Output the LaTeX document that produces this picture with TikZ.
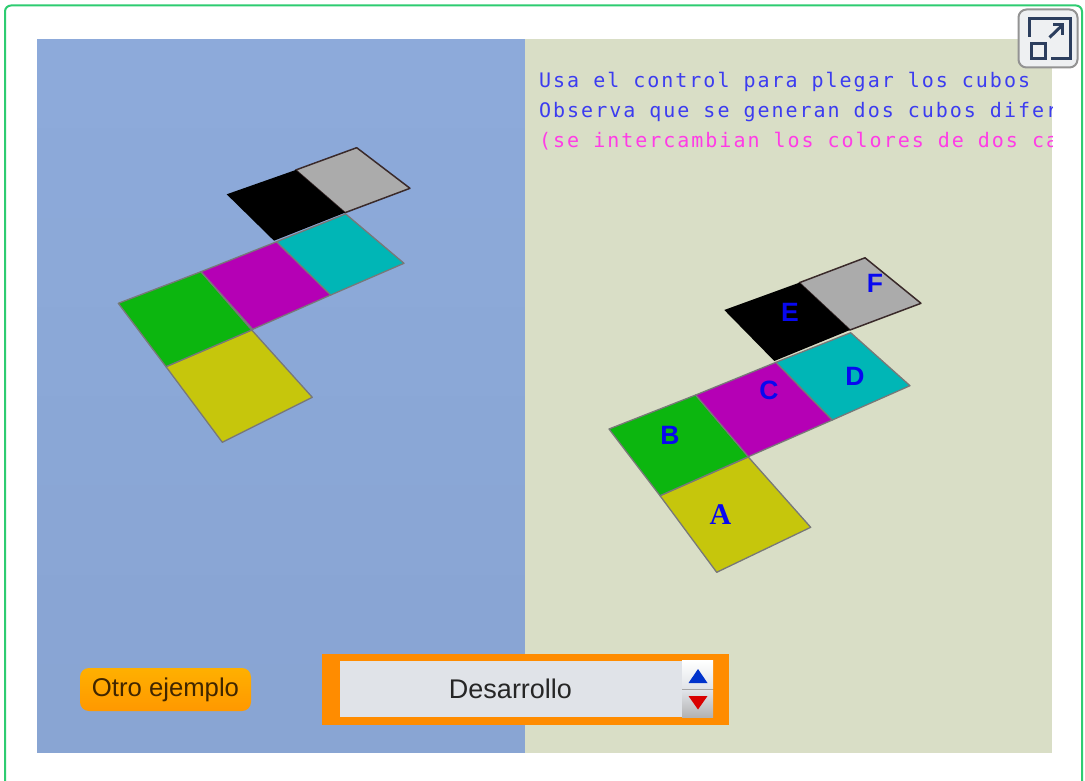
\documentclass[tikz,border=0pt]{standalone}
\usepackage{fontspec}
\setmainfont{Liberation Sans}
\newfontfamily\monotxt[LetterSpace=9.9]{DejaVu Sans Mono}
\newfontfamily\serifb[BoldFont={Liberation Serif Bold}]{Liberation Serif}
\definecolor{frameG}{HTML}{2ECC71}
\definecolor{panelB}{HTML}{8DAADA}
\definecolor{panelY}{HTML}{D9DEC6}
\definecolor{fYel}{HTML}{C6C60C}
\definecolor{fGrn}{HTML}{0CB60F}
\definecolor{fMag}{HTML}{B500B5}
\definecolor{fCya}{HTML}{00B6B6}
\definecolor{fGry}{HTML}{ABABAB}
\definecolor{edgeG}{HTML}{787878}
\definecolor{edgeD}{HTML}{3A2A2A}
\definecolor{txtB}{HTML}{3C3CF0}
\definecolor{txtM}{HTML}{FF3CE6}
\definecolor{lblB}{HTML}{0808F0}
\definecolor{ctlO}{HTML}{FF8C00}
\definecolor{ctlI}{HTML}{E0E3E8}
\definecolor{btnT}{HTML}{FFB000}
\definecolor{btnL}{HTML}{FF9800}
\definecolor{iconD}{HTML}{2C3E5E}
\tikzset{
  face/.style={draw=edgeG,line width=1.3pt,line join=round},
  darkface/.style={draw=edgeD,line width=1.5pt,line join=round},
  monoline/.style={anchor=base west,inner sep=0pt,font=\monotxt\fontsize{20}{20}\selectfont},
  sanslbl/.style={text=lblB,inner sep=0pt,font=\bfseries\fontsize{26.5}{26.5}\selectfont},
  iconline/.style={draw=iconD,line width=3pt},
}
\begin{document}
\begin{tikzpicture}[x=1pt,y=-1pt]
\useasboundingbox (0,0) rectangle (1085,781);
\fill[white] (0,0) rectangle (1085,781);
% frame (runs off the page bottom)
\draw[frameG,line width=2pt,rounded corners=6pt] (5,781) -- (5,5.5) -- (1082,5.5) -- (1082,781);
% panels: left panel darkens very slightly downwards, in bands
\foreach \k in {0,...,7}{
  \pgfmathsetmacro{\ytop}{39+\k*714/8}
  \pgfmathsetmacro{\mixv}{100-\k*0.45}
  \fill[panelB!\mixv!black] (37,\ytop) rectangle (525,753);
}
\fill[panelY] (525,39) rectangle (1052,753);
% left net
\filldraw[face,fill=fYel] (251.7,330) -- (312.3,397.3) -- (222.3,442.3) -- (166,366.7) -- cycle;
\filldraw[face,fill=fGrn] (201,271.7) -- (251.7,330) -- (166,366.7) -- (118.3,303.3) -- cycle;
\filldraw[face,fill=fMag] (276.7,241.7) -- (330.7,295) -- (252.7,329.3) -- (201,271.7) -- cycle;
\filldraw[face,fill=fCya] (345.7,214) -- (404,263.3) -- (330.7,295) -- (276.7,241.7) -- cycle;
\filldraw[darkface,fill=fGry] (356.7,147.7) -- (410,188.3) -- (345,212.7) -- (295.7,170) -- cycle;
\fill[black] (295.7,170) -- (226.7,194.3) -- (274,240.7) -- (345,212.7) -- cycle;
% right net
\filldraw[face,fill=fYel] (748.3,457) -- (810.7,527.3) -- (716.7,572.3) -- (660,495.7) -- cycle;
\filldraw[face,fill=fGrn] (695.7,395) -- (748.3,456.7) -- (660,495.7) -- (609,429) -- cycle;
\filldraw[face,fill=fMag] (776,362.3) -- (832.3,420) -- (748.3,456.7) -- (695.7,395) -- cycle;
\filldraw[face,fill=fCya] (850.7,332.7) -- (910,385.7) -- (832.3,420) -- (776,362.3) -- cycle;
\filldraw[darkface,fill=fGry] (865,257.8) -- (921,303.3) -- (850,330) -- (799.3,282.7) -- cycle;
\fill[black] (799.3,282.7) -- (724.3,310) -- (774.3,361) -- (850,330) -- cycle;
% face labels
\node[text=lblB,inner sep=0pt,font=\serifb\bfseries\fontsize{30}{30}\selectfont] (la) at (720.5,515) {A};
\node[sanslbl] (lb) at (670,435.7) {B};
\node[sanslbl] (lc) at (769,390.5) {C};
\node[sanslbl] (ld) at (855,376) {D};
\node[sanslbl] (le) at (790,312) {E};
\node[sanslbl] (lf) at (875,283) {F};
% instruction text, cut by the panel edge
\begin{scope}
\clip (525,39) rectangle (1052,753);
\node[monoline,text=txtB] (t1) at (539,87.7) {Usa el control para plegar los cubos};
\node[monoline,text=txtB] (t2) at (539,117.7) {Observa que se generan dos cubos difer};
\node[monoline,text=txtM] (t3) at (539,147.7) {(se intercambian los colores de dos ca};
\end{scope}
% button
\node[draw=none,rounded corners=9pt,top color=btnT,bottom color=btnL,minimum width=171pt,minimum height=43pt,inner sep=0pt,text=black!75!btnL,font=\fontsize{25.7}{25.7}\selectfont] (btn) at (165.5,689.5) {Otro ejemplo};
% selector
\fill[ctlO] (322,654) rectangle (729,725);
\fill[ctlI] (340,660.5) rectangle (682,717);
\node[inner sep=0pt,text=black!85,font=\fontsize{27}{27}\selectfont] (sel) at (510.5,689) {Desarrollo};
\shade[top color=white,bottom color=ctlI] (682,660.5) rectangle (713,688.5);
\fill[gray!70] (682,688.5) rectangle (713,690.5);
\shade[top color=ctlI,bottom color=gray!60] (682,690.5) rectangle (713,717);
\fill[blue!75!cyan!80!black] (698,669) -- (707.5,683) -- (688.5,683) -- cycle;
\fill[red!85!black] (688.5,696) -- (707.5,696) -- (698,709.5) -- cycle;
% expand icon
\filldraw[draw=gray!85,fill=iconD!8,line width=2pt,rounded corners=8pt] (1018.5,9.5) rectangle (1077.5,67.5);
\draw[iconline] (1029,37) -- (1029,19) -- (1070,19) -- (1070,59) -- (1051,59);
\draw[iconline] (1031,43.5) rectangle (1045,59);
\draw[iconline] (1049.5,37.5) -- (1062.5,25);
\draw[iconline] (1053,25) -- (1062.5,25) -- (1062.5,35);
\end{tikzpicture}
\end{document}
